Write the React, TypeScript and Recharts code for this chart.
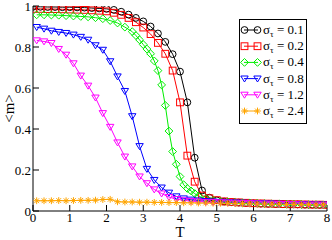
import React from 'react';
import { LineChart, Line, XAxis, YAxis } from 'recharts';

const T_EVEN = [0, 0.2, 0.4, 0.6, 0.8, 1, 1.2, 1.4, 1.6, 1.8, 2, 2.2, 2.4, 2.6, 2.8, 3, 3.2, 3.4, 3.6, 3.8, 4, 4.2, 4.4, 4.6, 4.8, 5, 5.2, 5.4, 5.6, 5.8, 6, 6.2, 6.4, 6.6, 6.8, 7, 7.2, 7.4, 7.6, 7.8, 8];
const T_ODD = [0.1, 0.3, 0.5, 0.7, 0.9, 1.1, 1.3, 1.5, 1.7, 1.9, 2.1, 2.3, 2.5, 2.7, 2.9, 3.1, 3.3, 3.5, 3.7, 3.9, 4.1, 4.3, 4.5, 4.7, 4.9, 5.1, 5.3, 5.5, 5.7, 5.9, 6.1, 6.3, 6.5, 6.7, 6.9, 7.1, 7.3, 7.5, 7.7, 7.9];
const T_GREEN = [0.1, 0.3, 0.5, 0.7, 0.9, 1.1, 1.3, 1.5, 1.7, 1.9, 2.1, 2.3, 2.5, 2.7, 2.8, 2.9, 3.0, 3.1, 3.2, 3.3, 3.4, 3.5, 3.6, 3.7, 3.8, 3.9, 4.0, 4.1, 4.2, 4.3, 4.4, 4.5, 4.7, 4.9, 5.1, 5.3, 5.5, 5.7, 5.9, 6.1, 6.3, 6.5, 6.7, 6.9, 7.1, 7.3, 7.5, 7.7, 7.9];

const M_01 = [0.996, 0.996, 0.995, 0.995, 0.994, 0.994, 0.993, 0.992, 0.99, 0.988, 0.986, 0.981, 0.972, 0.958, 0.942, 0.925, 0.9, 0.866, 0.825, 0.765, 0.68, 0.53, 0.26, 0.1, 0.065, 0.052, 0.046, 0.043, 0.041, 0.039, 0.037, 0.036, 0.035, 0.034, 0.033, 0.033, 0.032, 0.031, 0.031, 0.03, 0.03];
const M_02 = [0.986, 0.986, 0.985, 0.985, 0.984, 0.983, 0.982, 0.981, 0.979, 0.977, 0.974, 0.967, 0.957, 0.942, 0.921, 0.895, 0.863, 0.82, 0.767, 0.685, 0.53, 0.27, 0.143, 0.075, 0.062, 0.053, 0.047, 0.044, 0.042, 0.04, 0.038, 0.037, 0.036, 0.035, 0.034, 0.033, 0.033, 0.032, 0.031, 0.031, 0.03];
const M_04 = [0.957, 0.957, 0.956, 0.955, 0.953, 0.951, 0.949, 0.947, 0.943, 0.938, 0.929, 0.917, 0.897, 0.875, 0.856, 0.835, 0.812, 0.79, 0.767, 0.732, 0.685, 0.615, 0.515, 0.39, 0.29, 0.228, 0.168, 0.128, 0.11, 0.098, 0.085, 0.072, 0.06, 0.052, 0.047, 0.044, 0.042, 0.04, 0.039, 0.037, 0.036, 0.035, 0.034, 0.033, 0.033, 0.032, 0.031, 0.031, 0.03];
const M_08 = [0.897, 0.889, 0.879, 0.873, 0.868, 0.86, 0.849, 0.835, 0.808, 0.786, 0.73, 0.656, 0.585, 0.462, 0.316, 0.205, 0.151, 0.114, 0.089, 0.071, 0.061, 0.055, 0.051, 0.048, 0.046, 0.044, 0.042, 0.041, 0.04, 0.039, 0.038, 0.037, 0.036, 0.035, 0.034, 0.033, 0.033, 0.032, 0.031, 0.031];
const M_12 = [0.832, 0.827, 0.819, 0.79, 0.762, 0.72, 0.66, 0.611, 0.553, 0.477, 0.41, 0.334, 0.265, 0.217, 0.168, 0.135, 0.105, 0.085, 0.068, 0.058, 0.052, 0.048, 0.046, 0.044, 0.043, 0.042, 0.041, 0.04, 0.039, 0.038, 0.037, 0.036, 0.035, 0.034, 0.033, 0.033, 0.032, 0.031, 0.031, 0.03];
const M_24 = [0.05, 0.05, 0.05, 0.051, 0.05, 0.051, 0.052, 0.052, 0.053, 0.056, 0.057, 0.045, 0.044, 0.044, 0.043, 0.043, 0.042, 0.042, 0.041, 0.041, 0.04, 0.04, 0.039, 0.039, 0.038, 0.038, 0.037, 0.036, 0.036, 0.035, 0.034, 0.034, 0.033, 0.033, 0.032, 0.032, 0.031, 0.031, 0.03, 0.03];

const SIGMA_LABELS = ['0.1', '0.2', '0.4', '0.8', '1.2', '2.4'];
const X_TICKS = [0, 1, 2, 3, 4, 5, 6, 7, 8];
const X_MINOR = [0.5, 1.5, 2.5, 3.5, 4.5, 5.5, 6.5, 7.5];
const Y_TICKS = [0, 0.2, 0.4, 0.6, 0.8, 1];
const Y_MINOR = [0.1, 0.3, 0.5, 0.7, 0.9];

const zip = (ts: number[], ms: number[]) => ts.map((t, i) => ({ T: t, m: ms[i] }));

const FONT = "'Liberation Serif', 'DejaVu Serif', serif";

type Shape = 'circle' | 'square' | 'diamond' | 'tri' | 'star';

function marker(shape: Shape, color: string, cx: number, cy: number, key?: any) {
  const s = 3.4;
  switch (shape) {
    case 'circle':
      return <circle key={key} cx={cx} cy={cy} r={s} fill="none" stroke={color} strokeWidth={1} />;
    case 'square':
      return <rect key={key} x={cx - s} y={cy - s} width={2 * s} height={2 * s} fill="none" stroke={color} strokeWidth={1} />;
    case 'diamond':
      return <polygon key={key} points={`${cx},${cy - s - 0.5} ${cx + s + 0.5},${cy} ${cx},${cy + s + 0.5} ${cx - s - 0.5},${cy}`} fill="none" stroke={color} strokeWidth={1} />;
    case 'tri':
      return <polygon key={key} points={`${cx - s - 0.3},${cy - s + 0.8} ${cx + s + 0.3},${cy - s + 0.8} ${cx},${cy + s}`} fill="none" stroke={color} strokeWidth={1} />;
    case 'star':
      return (
        <g key={key} stroke={color} strokeWidth={1}>
          <line x1={cx - s} y1={cy} x2={cx + s} y2={cy} />
          <line x1={cx} y1={cy - s} x2={cx} y2={cy + s} />
          <line x1={cx - s * 0.7} y1={cy - s * 0.7} x2={cx + s * 0.7} y2={cy + s * 0.7} />
          <line x1={cx - s * 0.7} y1={cy + s * 0.7} x2={cx + s * 0.7} y2={cy - s * 0.7} />
        </g>
      );
  }
}

const SERIES = [
  { data: zip(T_EVEN, M_01), color: '#000000', shape: 'circle' as Shape },
  { data: zip(T_EVEN, M_02), color: '#ff0000', shape: 'square' as Shape },
  { data: zip(T_GREEN, M_04), color: '#00ee00', shape: 'diamond' as Shape },
  { data: zip(T_ODD, M_08), color: '#0000ff', shape: 'tri' as Shape },
  { data: zip(T_ODD, M_12), color: '#ff00ff', shape: 'tri' as Shape },
  { data: zip(T_ODD, M_24), color: '#ffa500', shape: 'star' as Shape },
];

const tickStyle = { fontFamily: FONT, fontSize: 13, fill: '#000' };

function LegendBox() {
  return (
    <svg style={{ position: 'absolute', left: 239, top: 19 }} width={68} height={105}>
      <rect x={0.5} y={0.5} width={67} height={104} fill="#fff" stroke="#000" strokeWidth={1} />
      {SERIES.map((s, i) => {
        const y = 11 + i * 16.2;
        return (
          <g key={i}>
            <line x1={5} y1={y} x2={19} y2={y} stroke={s.color} strokeWidth={1} />
            {marker(s.shape, s.color, 5.5, y)}
            {marker(s.shape, s.color, 18.5, y)}
            <text x={24} y={y + 4} style={{ fontFamily: FONT, fontSize: 13 }} fill="#000">
              σ<tspan dy={3} style={{ fontSize: 9 }}>τ</tspan><tspan dy={-3}>{' = ' + SIGMA_LABELS[i]}</tspan>
            </text>
          </g>
        );
      })}
    </svg>
  );
}

export default function App() {
  return (
    <div style={{ position: 'absolute', left: 0, top: 0, width: 332, height: 240, background: '#fff' }}>
      <LineChart width={332} height={240} margin={{ top: 6, right: 5, bottom: 0, left: 0 }}>
        <XAxis xAxisId="minB" type="number" dataKey="T" domain={[0, 8]} ticks={X_MINOR} orientation="bottom" height={0} tick={false} tickSize={-3} axisLine={false} tickLine={{ stroke: '#000' }} allowDataOverflow />
        <XAxis xAxisId={0} type="number" dataKey="T" domain={[0, 8]} ticks={X_TICKS} interval={0} height={29} tickSize={-6} tickMargin={8} tick={tickStyle} axisLine={{ stroke: '#000' }} tickLine={{ stroke: '#000' }}
          label={{ value: 'T', position: 'insideBottom', offset: 3, style: { fontFamily: FONT, fontSize: 15, fill: '#000' } }} allowDataOverflow />
        <XAxis xAxisId="top" type="number" dataKey="T" domain={[0, 8]} ticks={X_TICKS} orientation="top" height={0} tick={false} tickSize={-6} axisLine={{ stroke: '#000' }} tickLine={{ stroke: '#000' }} allowDataOverflow />
        <XAxis xAxisId="minT" type="number" dataKey="T" domain={[0, 8]} ticks={X_MINOR} orientation="top" height={0} tick={false} tickSize={-3} axisLine={false} tickLine={{ stroke: '#000' }} allowDataOverflow />
        <YAxis yAxisId="minL" type="number" domain={[0, 1]} ticks={Y_MINOR} width={0} tick={false} tickSize={-3} axisLine={false} tickLine={{ stroke: '#000' }} allowDataOverflow />
        <YAxis yAxisId={0} type="number" domain={[0, 1]} ticks={Y_TICKS} interval={0} width={33} tickSize={-6} tickMargin={8} tick={tickStyle} axisLine={{ stroke: '#000' }} tickLine={{ stroke: '#000' }}
          label={{ value: '<m>', angle: -90, position: 'insideLeft', offset: 9, style: { fontFamily: FONT, fontSize: 15, fill: '#000', textAnchor: 'middle' } }} allowDataOverflow />
        <YAxis yAxisId="right" type="number" domain={[0, 1]} ticks={Y_TICKS} orientation="right" width={0} tick={false} tickSize={-6} axisLine={{ stroke: '#000' }} tickLine={{ stroke: '#000' }} allowDataOverflow />
        <YAxis yAxisId="minR" type="number" domain={[0, 1]} ticks={Y_MINOR} orientation="right" width={0} tick={false} tickSize={-3} axisLine={false} tickLine={{ stroke: '#000' }} allowDataOverflow />
        {SERIES.map((s, i) => (
          <Line
            key={i}
            data={s.data}
            dataKey="m"
            type="linear"
            stroke={s.color}
            strokeWidth={1}
            isAnimationActive={false}
            dot={(p: any) => marker(s.shape, s.color, p.cx, p.cy, p.key ?? `${i}-${p.index}`)}
            activeDot={false}
          />
        ))}
      </LineChart>
      <LegendBox />
    </div>
  );
}
